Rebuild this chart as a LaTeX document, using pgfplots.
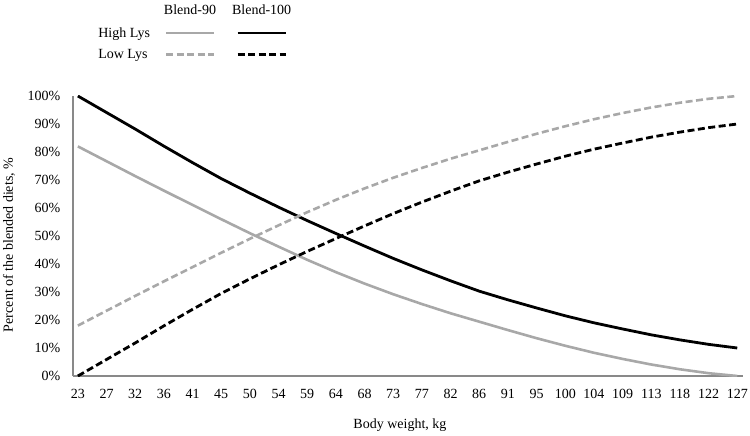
\documentclass[border=0pt]{standalone}
\usepackage{fontspec}
\setmainfont{Liberation Serif}
\usepackage{pgfplots}
\usepackage{pgfplotstable}
\pgfplotsset{compat=1.18}

\definecolor{axisgray}{RGB}{137,137,137}
\definecolor{lightline}{RGB}{168,168,168}

% Share of each blended diet (%) by body-weight step
\pgfplotstableread{
i  hl100 ll100 hl90 ll90
0  100.0  0.0  82.0 18.0
1   94.1  5.9  76.7 23.3
2   88.2 11.8  71.4 28.6
3   82.1 17.9  66.2 33.8
4   76.2 23.8  61.1 38.9
5   70.5 29.5  56.0 44.0
6   65.3 34.7  51.0 49.0
7   60.3 39.7  46.2 53.8
8   55.5 44.5  41.5 58.5
9   50.9 49.1  37.1 62.9
10  46.4 53.6  33.0 67.0
11  42.0 58.0  29.2 70.8
12  37.9 62.1  25.7 74.3
13  34.0 66.0  22.4 77.6
14  30.3 69.7  19.4 80.6
15  27.2 72.8  16.4 83.6
16  24.3 75.7  13.5 86.5
17  21.5 78.5  10.8 89.2
18  19.0 81.0   8.3 91.7
19  16.8 83.2   6.1 93.9
20  14.7 85.3   4.1 95.9
21  12.9 87.1   2.4 97.6
22  11.3 88.7   1.0 99.0
23  10.0 90.0   0.0 100.0
}\blends

\pgfplotsset{
  b90hi/.style={lightline, line width=2.6bp},
  b90lo/.style={lightline, line width=2.6bp, dash pattern=on 7bp off 3.5bp},
  b100hi/.style={black, line width=2.8bp},
  b100lo/.style={black, line width=2.8bp, dash pattern=on 7bp off 3.5bp},
  sample/.style={legend image code/.code={\draw[##1] (0bp,0bp) -- (48bp,0bp);}},
  header/.style={legend image code/.code={\node[inner sep=0pt, anchor=base] at (24bp,2bp) {#1};}},
}

\begin{document}
\begin{tikzpicture}[font=\fontsize{14bp}{16bp}\selectfont]
\path[use as bounding box] (-73bp,-60bp) rectangle (677bp,376bp);
\begin{axis}[
  scale only axis,
  width=670bp, height=280bp,
  xmin=-0.17, xmax=23.2,
  ymin=0, ymax=100,
  axis x line=bottom, axis y line=left,
  axis line style={-, axisgray, line width=1.2bp},
  tick style={draw=none},
  xtick={0,...,23},
  xticklabels={23,27,32,36,41,45,50,54,59,64,68,73,77,82,86,91,95,100,104,109,113,118,122,127},
  ytick={0,10,...,100},
  yticklabels={0\%,10\%,20\%,30\%,40\%,50\%,60\%,70\%,80\%,90\%,100\%},
  xticklabel style={yshift=-8bp},
  yticklabel style={xshift=-7bp},
  xlabel={Body weight, kg},
  ylabel={Percent of the blended diets, \%},
  xlabel style={at={(axis description cs:0.488,-0.175)}, anchor=center},
  ylabel style={at={(axis description cs:-0.0955,0.468)}, anchor=center},
  legend columns=3,
  legend cell align=left,
  legend style={draw=none, fill=none, at={(axis description cs:0.03,1.335)}, anchor=north west,
    font=\fontsize{14bp}{16bp}\selectfont,
    /tikz/every even column/.append style={column sep=12bp},
    row sep=6.5bp},
]
\addplot[b90hi, forget plot] table[x=i, y=hl90] {\blends};
\addplot[b100hi, forget plot] table[x=i, y=hl100] {\blends};
\addplot[b90lo, forget plot] table[x=i, y=ll90] {\blends};
\addplot[b100lo, forget plot] table[x=i, y=ll100] {\blends};

\addlegendimage{empty legend}\addlegendentry{}
\addlegendimage{header=Blend-90}\addlegendentry{}
\addlegendimage{header=Blend-100}\addlegendentry{}
\addlegendimage{empty legend}\addlegendentry{High Lys}
\addlegendimage{sample, b90hi}\addlegendentry{}
\addlegendimage{sample, b100hi}\addlegendentry{}
\addlegendimage{empty legend}\addlegendentry{Low Lys}
\addlegendimage{sample, b90lo}\addlegendentry{}
\addlegendimage{sample, b100lo}\addlegendentry{}
\end{axis}
\end{tikzpicture}
\end{document}
